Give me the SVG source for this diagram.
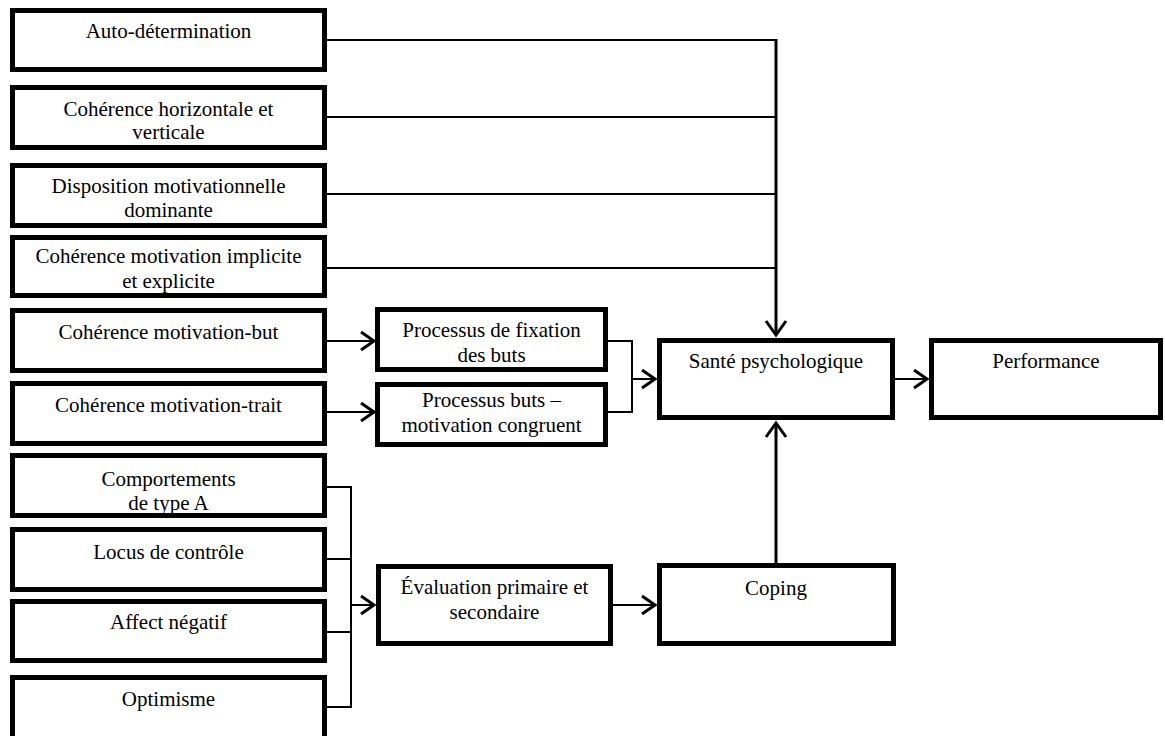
<svg xmlns="http://www.w3.org/2000/svg" width="1165" height="736" viewBox="0 0 1165 736">
<style>
.box{fill:#fff;stroke:#000;stroke-width:5}
.t{font-family:"Liberation Serif","Times New Roman",serif;font-size:21px;fill:#000;text-anchor:middle}
.ln{fill:none;stroke:#000;stroke-width:2}
.v{fill:none;stroke:#000;stroke-width:3}
.ah{fill:none;stroke:#000;stroke-width:3;stroke-linejoin:miter}
</style>
<rect width="1165" height="736" fill="#fff"/>
<g id="connectors">
<path class="ln" d="M327 40H776M327 117H776M327 194H776M327 268H776"/>
<path class="v" d="M776 39V334"/>
<polyline class="ah" points="766,321 776,335 786,321"/>
<path class="ln" d="M327 341H373M327 412H373"/>
<polyline class="ah" points="361,332 374,341 361,350"/>
<polyline class="ah" points="361,403 374,412 361,421"/>
<path class="ln" d="M608 341H632V412H608M632 379H655"/>
<polyline class="ah" points="642,370 655,379 642,388"/>
<path class="ln" d="M895 379H927"/>
<polyline class="ah" points="914,370 927,379 914,388"/>
<path class="ln" d="M327 487H351V707H327M327 559H351M327 632H351M351 605H374"/>
<polyline class="ah" points="361,596 374,605 361,614"/>
<path class="ln" d="M613 605H655"/>
<polyline class="ah" points="642,596 655,605 642,614"/>
<path class="v" d="M776 563V424"/>
<polyline class="ah" points="766,437 776,423 786,437"/>
</g>
<g id="n1"><rect class="box" x="12.5" y="10.5" width="312" height="59"/><text class="t" x="168.5" y="38">Auto-détermination</text></g>
<g id="n2"><rect class="box" x="12.5" y="87.5" width="312" height="60"/><text class="t" x="168.5" y="116">Cohérence horizontale et</text><text class="t" x="168.5" y="139">verticale</text></g>
<g id="n3"><rect class="box" x="12.5" y="165.5" width="312" height="60"/><text class="t" x="168.5" y="193">Disposition motivationnelle</text><text class="t" x="168.5" y="217">dominante</text></g>
<g id="n4"><rect class="box" x="12.5" y="237.5" width="312" height="58"/><text class="t" x="168.5" y="263">Cohérence motivation implicite</text><text class="t" x="168.5" y="288">et explicite</text></g>
<g id="n5"><rect class="box" x="12.5" y="310.5" width="312" height="60"/><text class="t" x="168.5" y="339">Cohérence motivation-but</text></g>
<g id="n6"><rect class="box" x="12.5" y="383.5" width="312" height="60"/><text class="t" x="168.5" y="412">Cohérence motivation-trait</text></g>
<g id="n7"><rect class="box" x="12.5" y="455.5" width="312" height="60"/><text class="t" x="168.5" y="486">Comportements</text><text class="t" x="168.5" y="510">de type A</text><rect x="15" y="513" width="307" height="6" fill="#fff"/><path d="M10 515.5H327" stroke="#000" stroke-width="5"/></g>
<g id="n8"><rect class="box" x="12.5" y="529.5" width="312" height="60"/><text class="t" x="168.5" y="559">Locus de contrôle</text></g>
<g id="n9"><rect class="box" x="12.5" y="601.5" width="312" height="59"/><text class="t" x="168.5" y="629">Affect négatif</text></g>
<g id="n10"><rect class="box" x="12.5" y="677.5" width="312" height="80"/><text class="t" x="168.5" y="706">Optimisme</text></g>
<g id="n11"><rect class="box" x="377.5" y="309.5" width="228" height="60"/><text class="t" x="491.5" y="337">Processus de fixation</text><text class="t" x="491.5" y="362">des buts</text></g>
<g id="n12"><rect class="box" x="377.5" y="384.5" width="228" height="60"/><text class="t" x="491.5" y="407">Processus buts –</text><text class="t" x="491.5" y="432">motivation congruent</text><rect x="380" y="441" width="223" height="5" fill="#fff"/><path d="M375 444.5H608" stroke="#000" stroke-width="5"/></g>
<g id="n13"><rect class="box" x="378.5" y="566.5" width="232" height="77"/><text class="t" x="494.5" y="594">Évaluation primaire et</text><text class="t" x="494.5" y="619">secondaire</text></g>
<g id="n14"><rect class="box" x="659.5" y="340.5" width="233" height="77"/><text class="t" x="776" y="368">Santé psychologique</text></g>
<g id="n15"><rect class="box" x="931.5" y="340.5" width="229" height="77"/><text class="t" x="1046" y="368">Performance</text></g>
<g id="n16"><rect class="box" x="659.5" y="565.5" width="234" height="78"/><text class="t" x="776" y="595">Coping</text></g>
</svg>
